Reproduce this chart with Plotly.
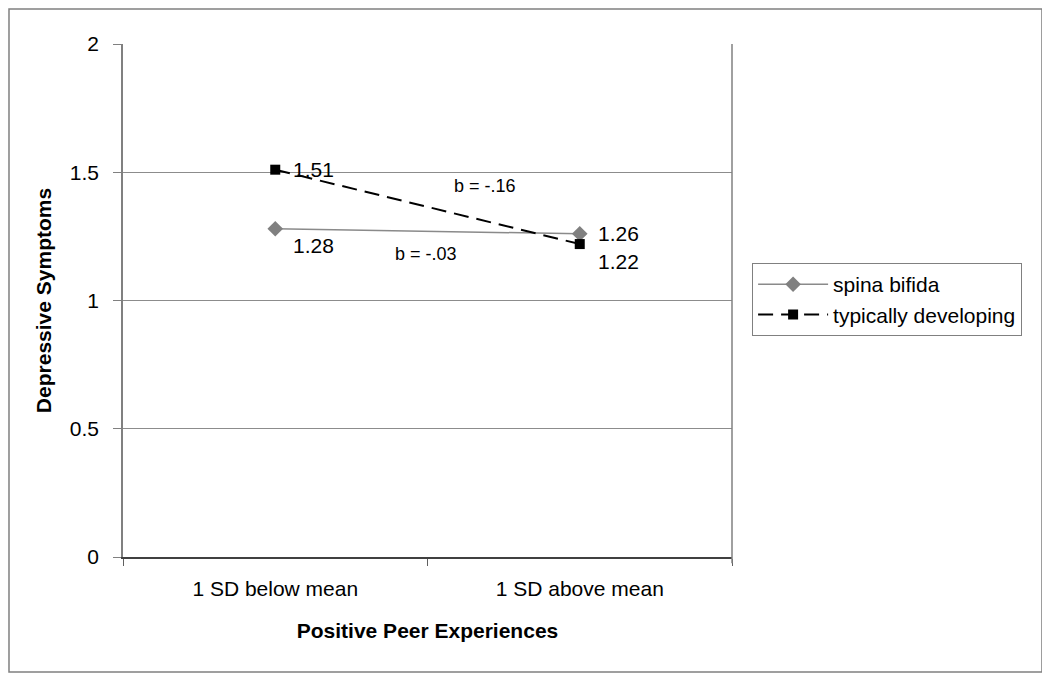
import plotly.graph_objects as go

categories = ["1 SD below mean", "1 SD above mean"]
spina_bifida = [1.28, 1.26]
typically_developing = [1.51, 1.22]
sb_labels = ["1.28", "1.26"]
td_labels = ["1.51", "1.22"]
y_ticks = [0, 0.5, 1, 1.5, 2]
y_tick_labels = ["0", "0.5", "1", "1.5", "2"]
slope_labels = ["b = -.16", "b = -.03"]

FONT = "Arial, 'Liberation Sans', sans-serif"
LABEL_SIZE = 21

fig = go.Figure()
fig.add_trace(go.Scatter(
    x=categories, y=spina_bifida, name="spina bifida",
    mode="lines+markers",
    line=dict(color="#8a8a8a", width=1.5),
    marker=dict(symbol="diamond", size=12, color="#808080"),
))
fig.add_trace(go.Scatter(
    x=categories, y=typically_developing, name="typically developing",
    mode="lines+markers",
    line=dict(color="black", width=2, dash="15px,8px"),
    marker=dict(symbol="square", size=10, color="black"),
))

# value labels (offsets in px relative to each point)
sb_yshift = [-17, 0]
td_yshift = [0, -17]
for xs, ys, labels, shifts in [(categories, spina_bifida, sb_labels, sb_yshift),
                               (categories, typically_developing, td_labels, td_yshift)]:
    for xv, yv, lab, sh in zip(xs, ys, labels, shifts):
        fig.add_annotation(x=xv, y=yv, text=lab, showarrow=False,
                           xanchor="left", yanchor="middle", xshift=16, yshift=sh,
                           font=dict(size=LABEL_SIZE, color="black", family=FONT))

# slope annotations
fig.add_annotation(x=0.69, y=1.445, text=slope_labels[0], showarrow=False,
                   font=dict(size=18, color="black", family=FONT))
fig.add_annotation(x=0.495, y=1.18, text=slope_labels[1], showarrow=False,
                   font=dict(size=18, color="black", family=FONT))

# outer frame
fig.add_shape(type="rect", xref="paper", yref="paper",
              x0=-0.1872, x1=1.509, y0=-0.224, y1=1.068,
              line=dict(color="#808080", width=1.5), layer="below")

fig.update_layout(
    width=1042, height=669,
    margin=dict(l=115, r=318, t=36, b=120),
    paper_bgcolor="white", plot_bgcolor="white",
    font=dict(family=FONT, size=LABEL_SIZE, color="black"),
    showlegend=True,
    legend=dict(
        x=1.033, y=0.573, xanchor="left", yanchor="top",
        bordercolor="#808080", borderwidth=1,
        font=dict(size=LABEL_SIZE, family=FONT),
        itemwidth=70, tracegroupgap=6,
    ),
    xaxis=dict(
        type="category", range=[-0.5, 1.5],
        tickson="boundaries", ticks="outside", ticklen=7,
        tickcolor="#606060",
        showline=True, linecolor="#404040", linewidth=1.5,
        mirror=False, showgrid=False,
        tickfont=dict(size=LABEL_SIZE), ticklabelstandoff=12,
        title=dict(text="<b>Positive Peer Experiences</b>", font=dict(size=LABEL_SIZE), standoff=24),
    ),
    yaxis=dict(
        range=[0, 2], tickvals=y_ticks, ticktext=y_tick_labels,
        ticks="outside", ticklen=8, tickcolor="#808080",
        showline=True, linecolor="#808080", linewidth=1.5,
        showgrid=True, gridcolor="#8c8c8c", gridwidth=1,
        zeroline=False,
        tickfont=dict(size=LABEL_SIZE), ticklabelstandoff=10,
        title=dict(text="<b>Depressive Symptoms</b>", font=dict(size=LABEL_SIZE), standoff=12),
    ),
)
# right border of plot area
fig.add_shape(type="line", xref="paper", yref="paper", x0=1, x1=1, y0=-0.012, y1=1,
              line=dict(color="#808080", width=1.5))

fig.write_html("out.html")
